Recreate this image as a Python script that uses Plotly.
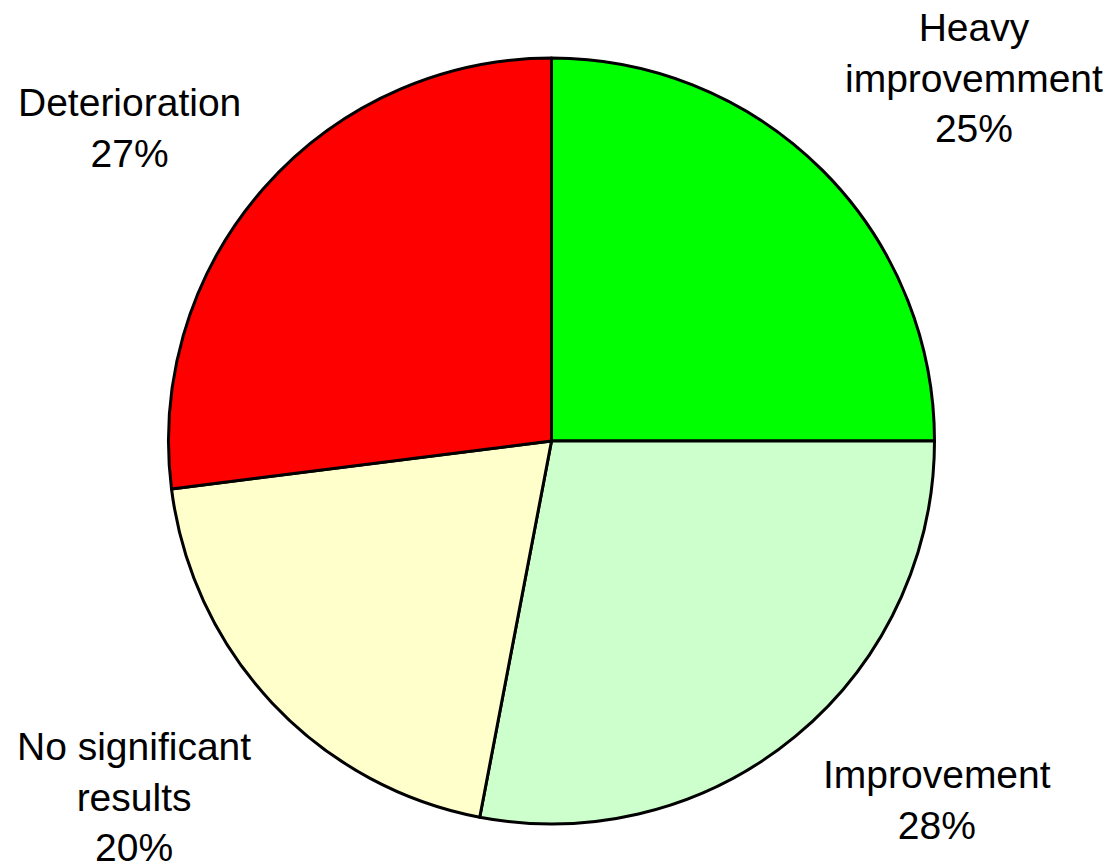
import plotly.graph_objects as go

labels = ["Heavy<br>improvemment", "Improvement", "No significant<br>results", "Deterioration"]
values = [25, 28, 20, 27]
colors = ["#00FF00", "#CCFFCC", "#FFFFCC", "#FF0000"]

W, H = 1115, 866
OFF = 8  # default page body margin
cx, cy, r = 551.5 - OFF, 441 - OFF, 383

fig = go.Figure(go.Pie(
    labels=labels, values=values, sort=False, direction="clockwise", rotation=0,
    marker=dict(colors=colors, line=dict(color="black", width=3)),
    textinfo="none", hoverinfo="label+percent", showlegend=False,
    domain=dict(x=[(cx - r) / W, (cx + r) / W], y=[(H - cy - r) / H, (H - cy + r) / H]),
))

# label block centres (pixels from top-left of the page)
label_pos = [(974, 78), (937, 800), (134, 797), (129, 128)]
for lab, v, (px, py) in zip(labels, values, label_pos):
    fig.add_annotation(
        x=(px - OFF) / W, y=1 - (py - OFF) / H, xref="paper", yref="paper",
        text=f"{lab}<br>{v}%", showarrow=False, align="center",
        xanchor="center", yanchor="middle",
        font=dict(family="Liberation Sans, Arial, sans-serif", size=39, color="black"),
    )

fig.update_layout(width=W, height=H, margin=dict(l=0, r=0, t=0, b=0),
                  paper_bgcolor="white", plot_bgcolor="white")
fig.write_html("out.html")
